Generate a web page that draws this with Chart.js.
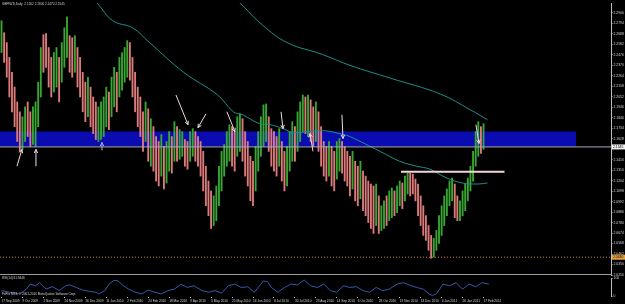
<!DOCTYPE html>
<html>
<head>
<meta charset="utf-8">
<script src="https://cdn.jsdelivr.net/npm/chart.js@4.4.1/dist/chart.umd.min.js"></script>
<style>
  body { margin: 0; background: #000; }
  #wrap { position: relative; width: 625px; height: 304px; overflow: hidden; background: #000; }
  #main { position: absolute; left: 0; top: 0; }
  #sub { position: absolute; left: 0; top: 275px; }
  #sep { position: absolute; left: 0; top: 274px; width: 612px; height: 1px; background: #9c9c9c; }
</style>
</head>
<body>
<div id="wrap">
  <canvas id="main" width="625" height="280"></canvas>
  <div id="sep"></div>
  <canvas id="sub" width="625" height="29"></canvas>
</div>
<script>
// GBPNZD daily, one bar per two trading days (day index 0, 2, 4 ...)
const highs = [
  2.282,2.270,2.260,2.245,2.230,2.215,2.200,2.190,2.185,2.195,
  2.200,2.190,2.195,2.200,2.220,2.255,2.268,2.269,2.255,2.245,
  2.250,2.255,2.245,2.260,2.275,2.286,2.267,2.265,2.267,2.255,
  2.245,2.230,2.220,2.225,2.215,2.205,2.200,2.195,2.200,2.205,
  2.215,2.210,2.225,2.235,2.230,2.245,2.250,2.255,2.262,2.260,
  2.245,2.230,2.215,2.205,2.190,2.200,2.193,2.183,2.175,2.165,
  2.160,2.167,2.155,2.160,2.170,2.165,2.180,2.175,2.172,2.170,
  2.162,2.160,2.170,2.173,2.170,2.165,2.160,2.150,2.135,2.120,
  2.110,2.105,2.115,2.135,2.150,2.157,2.170,2.177,2.175,2.170,
  2.185,2.188,2.183,2.170,2.160,2.145,2.140,2.155,2.170,2.185,
  2.197,2.198,2.185,2.173,2.170,2.165,2.173,2.160,2.150,2.155,
  2.170,2.180,2.175,2.190,2.200,2.207,2.205,2.207,2.202,2.195,
  2.200,2.190,2.175,2.160,2.155,2.160,2.155,2.150,2.160,2.163,
  2.160,2.155,2.150,2.145,2.150,2.140,2.135,2.140,2.130,2.125,
  2.120,2.117,2.115,2.117,2.105,2.095,2.100,2.105,2.110,2.113,
  2.110,2.115,2.120,2.118,2.125,2.128,2.128,2.127,2.122,2.117,
  2.105,2.095,2.085,2.075,2.065,2.062,2.070,2.085,2.095,2.105,
  2.112,2.120,2.123,2.117,2.105,2.100,2.110,2.117,2.123,2.135,
  2.150,2.170,2.180,2.175,2.178
];
const lows = [
  2.250,2.240,2.225,2.205,2.190,2.175,2.160,2.150,2.152,2.160,
  2.165,2.155,2.157,2.155,2.175,2.205,2.230,2.235,2.215,2.205,
  2.210,2.215,2.200,2.220,2.235,2.245,2.230,2.225,2.230,2.215,
  2.205,2.190,2.180,2.185,2.175,2.168,2.162,2.160,2.162,2.165,
  2.175,2.172,2.185,2.195,2.190,2.205,2.212,2.220,2.225,2.222,
  2.205,2.190,2.175,2.165,2.150,2.160,2.140,2.135,2.130,2.120,
  2.115,2.125,2.112,2.118,2.130,2.128,2.140,2.140,2.142,2.145,
  2.135,2.132,2.140,2.145,2.140,2.135,2.125,2.110,2.095,2.085,
  2.072,2.075,2.080,2.095,2.110,2.125,2.135,2.140,2.135,2.130,
  2.145,2.150,2.140,2.125,2.115,2.100,2.095,2.110,2.130,2.145,
  2.155,2.160,2.150,2.135,2.130,2.125,2.135,2.120,2.110,2.115,
  2.130,2.140,2.140,2.150,2.160,2.170,2.168,2.165,2.160,2.155,
  2.160,2.150,2.135,2.125,2.120,2.125,2.115,2.110,2.122,2.130,
  2.128,2.120,2.115,2.105,2.112,2.100,2.095,2.102,2.090,2.085,
  2.078,2.072,2.067,2.075,2.067,2.070,2.072,2.075,2.080,2.083,
  2.085,2.088,2.095,2.092,2.100,2.107,2.105,2.107,2.100,2.085,
  2.075,2.065,2.060,2.050,2.042,2.043,2.050,2.057,2.065,2.075,
  2.085,2.095,2.100,2.083,2.080,2.080,2.085,2.090,2.100,2.110,
  2.120,2.135,2.145,2.148,2.152
];
// U = up bar (green), D = down bar (salmon)
const direction = (
  'UDDDDDDDUU' + 'DDUUUUDDDD' + 'UUDUUUDDUD' + 'DDDUDDDUUU' + 'UDUUDUUUUD' +
  'DDDDDUDUDD' + 'DUDUUDUDUU' + 'DDUUDDDDDD' + 'DUUUUUUUDD' + 'UUDDDDDUUU' +
  'UUDDDDUDDU' + 'UUDUUUDUDD' + 'UDDDDUDDUU' + 'DDDDUDDUDD' + 'DDDUDUUDUU' +
  'DUUDUUDDDD' + 'DDDDDUUUUU' + 'UUUDDUUUUU' + 'UUUDU'
).split('');

// moving averages, read at a few points (day index, price)
const maFastIdx = [68,73,85,100,113,139,165,177,184,197,205,215,223,245,261,266,289,304,317,327,340,352,363,371];
const maFastVal = [2.306,2.300,2.282,2.275,2.260,2.230,2.207,2.190,2.187,2.178,2.177,2.173,2.169,2.171,2.167,2.165,2.150,2.140,2.135,2.132,2.123,2.118,2.117,2.118];
const maSlowIdx = [175,182,199,218,245,266,297,335,358,371];
const maSlowVal = [2.308,2.300,2.278,2.260,2.248,2.237,2.224,2.208,2.192,2.182];

// RSI(14), read at a few points
const rsiIdx = [0,6,14,19,22,26,29,34,39,44,49,52,57,62,67,72,74,79,82,86,
  89,93,97,102,107,112,117,122,127,132,137,142,147,153,158,163,168,173,178,183,
  188,193,198,200,203,206,211,216,221,226,231,236,241,246,251,256,261,266,271,276,
  281,286,291,296,302,307,312,317,322,327,329,332,337,342,347,352,357,362,367,372];
const rsiVal = [32,23,14,40,67,58,75,40,53,32,58,63,49,35,28,23,14,32,67,88,
  84,58,40,23,14,35,23,14,32,40,67,49,58,32,23,32,18,58,67,49,
  53,23,67,84,81,49,23,49,67,63,90,58,49,67,32,23,58,49,53,32,
  23,49,32,40,67,75,60,49,40,11,5,14,67,58,75,40,67,53,75,67];

// horizontal objects
const zoneTop = 2.170, zoneBottom = 2.155, zoneEndIdx = 438.6;
const bidPrice = 2.1545;
const alertPrice = 2.0430;
const necklinePrice = 2.1293, necklineFrom = 305, necklineTo = 384;

// arrows drawn on the chart: [day index, price] from -> to
const arrowFrom = [[11.8,2.135],[26.3,2.135],[76.7,2.151],[133.2,2.207],[156.1,2.188],[172.1,2.190],[213.4,2.190],[237.8,2.150],[259.9,2.187],[362.2,2.177]];
const arrowTo   = [[15.6,2.152],[26.3,2.152],[76.7,2.159],[142.4,2.177],[150.0,2.174],[178.2,2.170],[214.9,2.173],[235.5,2.168],[260.7,2.163],[364.5,2.158]];

const priceTicks = [2.2900,2.2794,2.2688,2.2582,2.2476,2.2370,2.2264,2.2158,2.2052,2.1946,2.1840,2.1734,2.1628,
  2.1416,2.1310,2.1204,2.1098,2.0992,2.0886,2.0780,2.0674,2.0568,2.0462,2.0356,2.0250];
const dateTickIdx = [0,16,32,48,64,80,96,112,128,144,160,176,192,208,224,240,256,272,288,304,320,336,352,368];
const dateLabels = ['17 Sep 2009','9 Oct 2009','2 Nov 2009','24 Nov 2009','16 Dec 2009','11 Jan 2010','2 Feb 2010',
  '24 Feb 2010','18 Mar 2010','9 Apr 2010','3 May 2010','25 May 2010','16 Jun 2010','8 Jul 2010','30 Jul 2010',
  '23 Aug 2010','14 Sep 2010','6 Oct 2010','28 Oct 2010','19 Nov 2010','13 Dec 2010','4 Jan 2011','26 Jan 2011','17 Feb 2011'];

const titleText = 'GBPNZD,Daily  2.1502 2.1600 2.1470 2.1545';
const rsiText = 'RSI(14) 61.9446';
const copyText = 'FxPro MT4, \u00a9 2001-2010 MetaQuotes Software Corp.';

const xMin = -1.15, xMax = 465.3;
const fg = '#d4d4d4';
const axisColor = '#bdbdbd';
const fontFam = '"Liberation Sans", Arial, sans-serif';

Chart.defaults.font.family = fontFam;

const barData = highs.map((h, k) => ({ x: k * 2, y: [lows[k], h] }));
const barColors = direction.map(d => d === 'U' ? '#38a832' : '#de7a7a');
const pts = (xs, ys) => xs.map((x, k) => ({ x: x, y: ys[k] }));

const overlayPlugin = {
  id: 'overlay',
  afterDatasetsDraw(chart) {
    const ctx = chart.ctx;
    const xs = chart.scales.x, ys = chart.scales.y;
    ctx.save();
    ctx.lineWidth = 1;
    arrowFrom.forEach((f, k) => {
      const t = arrowTo[k];
      const x1 = xs.getPixelForValue(f[0]), y1 = ys.getPixelForValue(f[1]);
      const x2 = xs.getPixelForValue(t[0]), y2 = ys.getPixelForValue(t[1]);
      const a = Math.atan2(y2 - y1, x2 - x1);
      ctx.strokeStyle = k === 2 ? '#b9a9ec' : '#f0dcdc';
      ctx.beginPath();
      ctx.moveTo(x1, y1);
      ctx.lineTo(x2, y2);
      ctx.moveTo(x2, y2);
      ctx.lineTo(x2 - 4 * Math.cos(a - 0.45), y2 - 4 * Math.sin(a - 0.45));
      ctx.moveTo(x2, y2);
      ctx.lineTo(x2 - 4 * Math.cos(a + 0.45), y2 - 4 * Math.sin(a + 0.45));
      ctx.stroke();
    });
    ctx.restore();
  },
  afterDraw(chart) {
    const ctx = chart.ctx;
    const ys = chart.scales.y;
    ctx.save();
    ctx.font = '3.1px ' + fontFam;
    ctx.fillStyle = fg;
    ctx.textBaseline = 'middle';
    ctx.textAlign = 'left';
    ctx.fillText(titleText, 2, 4);
    // price boxes on the axis
    [[bidPrice, '#f2f2f2', '#000'], [alertPrice, '#e8a040', '#000']].forEach(b => {
      const y = ys.getPixelForValue(b[0]);
      ctx.fillStyle = b[1];
      ctx.fillRect(612, y - 2.5, 13, 5);
      ctx.fillStyle = b[2];
      ctx.font = '3.4px ' + fontFam;
      ctx.fillText(b[0].toFixed(4), 613, y);
    });
    ctx.restore();
  }
};

new Chart(document.getElementById('main'), {
  type: 'bar',
  data: {
    datasets: [
      { type: 'line', data: pts([xMin, zoneEndIdx], [zoneTop, zoneTop]), borderWidth: 0, pointRadius: 0,
        fill: '+1', backgroundColor: '#0b0bb2', order: 9 },
      { type: 'line', data: pts([xMin, zoneEndIdx], [zoneBottom, zoneBottom]), borderWidth: 0, pointRadius: 0,
        fill: false, order: 9 },
      { type: 'bar', data: barData, backgroundColor: barColors, borderWidth: 0, barThickness: 1.2,
        grouped: false, order: 3 },
      { type: 'line', data: pts(maFastIdx, maFastVal), borderColor: '#1f8f8a', borderWidth: 1,
        pointRadius: 0, tension: 0.4, fill: false, order: 1 },
      { type: 'line', data: pts(maSlowIdx, maSlowVal), borderColor: '#1f8f8a', borderWidth: 1,
        pointRadius: 0, tension: 0.4, fill: false, order: 1 },
      { type: 'line', data: pts([xMin, xMax], [bidPrice, bidPrice]), borderColor: '#a9a9bd', borderWidth: 1,
        pointRadius: 0, fill: false, order: 0 },
      { type: 'line', data: pts([xMin, xMax], [alertPrice, alertPrice]), borderColor: '#d0803c', borderWidth: 1,
        borderDash: [1, 2], pointRadius: 0, fill: false, order: 0 },
      { type: 'line', data: pts([necklineFrom, necklineTo], [necklinePrice, necklinePrice]), borderColor: '#f4d4dc',
        borderWidth: 2, pointRadius: 0, fill: false, order: 0 }
    ]
  },
  options: {
    responsive: false,
    animation: false,
    devicePixelRatio: 1,
    events: [],
    layout: { padding: { left: 0, right: 0, top: 0, bottom: 5 } },
    plugins: { legend: { display: false }, tooltip: { enabled: false } },
    scales: {
      x: { type: 'linear', min: xMin, max: xMax, display: false, offset: false },
      y: {
        type: 'linear', position: 'right', min: 2.025, max: 2.300,
        afterBuildTicks: s => { s.ticks = priceTicks.map(v => ({ value: v })); },
        afterFit: s => { s.width = 14; },
        ticks: { color: fg, font: { size: 3.4 }, padding: 1, autoSkip: false, callback: v => v.toFixed(4) },
        grid: { drawOnChartArea: false, color: axisColor, tickLength: 1.5 },
        border: { color: axisColor }
      }
    }
  },
  plugins: [overlayPlugin]
});

const subTextPlugin = {
  id: 'subText',
  afterDraw(chart) {
    const ctx = chart.ctx;
    ctx.save();
    ctx.font = '3.1px ' + fontFam;
    ctx.fillStyle = fg;
    ctx.textBaseline = 'middle';
    ctx.textAlign = 'left';
    ctx.fillText(rsiText, 2, 3);
    ctx.fillText(copyText, 2, 19);
    ctx.restore();
  }
};

new Chart(document.getElementById('sub'), {
  type: 'line',
  data: {
    datasets: [
      { data: pts(rsiIdx, rsiVal), borderColor: '#3558aa', borderWidth: 1, pointRadius: 0, tension: 0, fill: false }
    ]
  },
  options: {
    responsive: false,
    animation: false,
    devicePixelRatio: 1,
    events: [],
    layout: { padding: { left: 0, right: 0, top: 2, bottom: 0 } },
    plugins: { legend: { display: false }, tooltip: { enabled: false } },
    scales: {
      x: {
        type: 'linear', min: xMin, max: xMax, offset: false,
        afterBuildTicks: s => { s.ticks = dateTickIdx.map(v => ({ value: v })); },
        afterFit: s => { s.height = 7.5; },
        ticks: { color: fg, font: { size: 3.2 }, padding: 1, align: 'start', maxRotation: 0, autoSkip: false,
          callback: (v, i) => dateLabels[i] },
        grid: { drawOnChartArea: false, color: axisColor, tickLength: 1.5 },
        border: { display: false }
      },
      y: {
        type: 'linear', position: 'right', min: 0, max: 100,
        afterBuildTicks: s => { s.ticks = [{ value: 0 }, { value: 100 }]; },
        afterFit: s => { s.width = 14; },
        ticks: { color: fg, font: { size: 3.4 }, padding: 1, callback: v => String(v) },
        grid: { drawOnChartArea: false, color: axisColor, tickLength: 1.5 },
        border: { color: axisColor }
      }
    }
  },
  plugins: [subTextPlugin]
});
</script>
</body>
</html>
